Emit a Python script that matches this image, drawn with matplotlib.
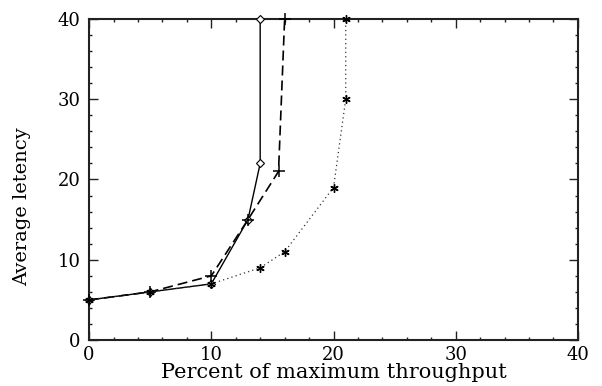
import matplotlib
matplotlib.use("Agg")
import matplotlib.pyplot as plt
from matplotlib.ticker import MultipleLocator

# Data
x_solid = [0, 5, 10, 13, 14, 14]
y_solid = [5, 6, 7, 15, 22, 40]
x_dash = [0, 5, 10, 13, 15.5, 16]
y_dash = [5, 6, 8, 15, 21, 40]
x_dot = [0, 5, 10, 14, 16, 20, 21, 21]
y_dot = [5, 6, 7, 9, 11, 19, 30, 40]

xlabel = "Percent of maximum throughput"
ylabel = "Average letency"

plt.rcParams['font.family'] = ['DejaVu Serif']

fig = plt.figure(figsize=(6.02, 3.86), dpi=100)
ax = fig.add_axes([0.148, 0.119, 0.812, 0.832])

ax.plot(x_solid, y_solid, color='black', linestyle='-', linewidth=1.0,
        marker='D', markersize=4.5, markerfacecolor='white', markeredgecolor='black',
        markeredgewidth=0.8, clip_on=False, zorder=3)
ax.plot(x_dash, y_dash, color='black', linestyle=(0, (6, 3)), linewidth=1.2,
        marker='+', markersize=9, markeredgewidth=1.1, clip_on=False, zorder=3)
ax.plot(x_dot, y_dot, color='#333333', linestyle=(0, (1, 2.5)), linewidth=0.9,
        marker=(6, 2, 0), markersize=6, markeredgewidth=1.0, markeredgecolor='black',
        clip_on=False, zorder=3)

ax.set_xlim(0, 40)
ax.set_ylim(0, 40)
ax.xaxis.set_major_locator(MultipleLocator(10))
ax.yaxis.set_major_locator(MultipleLocator(10))
ax.xaxis.set_minor_locator(MultipleLocator(2))
ax.yaxis.set_minor_locator(MultipleLocator(2))
ax.tick_params(which='both', direction='in', top=True, right=True, width=1.0,
               color='#222222')
ax.tick_params(which='major', length=6.5, labelsize=13, pad=4)
ax.tick_params(axis='y', which='major', pad=6)
ax.tick_params(which='minor', length=2.5)
for s in ax.spines.values():
    s.set_linewidth(1.5)
    s.set_color('#222222')

ax.set_xlabel(xlabel, fontsize=15, va='center')
ax.xaxis.set_label_coords(0.5, -0.1)
ax.set_ylabel(ylabel, fontsize=14, va='center')
ax.yaxis.set_label_coords(-0.137, 0.414)

fig.savefig("out.png", dpi=100)
